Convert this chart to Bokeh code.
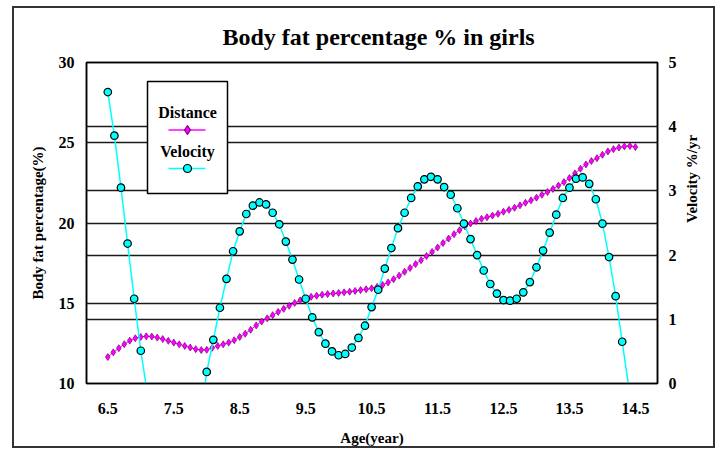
import math
from bokeh.plotting import figure
from bokeh.models import Range1d, LinearAxis, FixedTicker, Grid, BoxAnnotation, Label, InlineStyleSheet
from bokeh.embed import file_html
from bokeh.resources import INLINE

# ---------------- data ----------------
title_text = "Body fat percentage % in girls"
x_label = "Age(year)"
y_label = "Body fat percentage(%)"
y2_label = "Velocity %/yr"
series_names = ["Distance", "Velocity"]

x_ticks = [6.5, 7.5, 8.5, 9.5, 10.5, 11.5, 12.5, 13.5, 14.5]
y_ticks = [10, 15, 20, 25, 30]
y2_ticks = [0, 1, 2, 3, 4, 5]
y_grid_ticks = [15, 20, 25]
y2_grid_ticks = [1, 2, 3, 4]

# Distance: body fat % sampled monthly from 6.5 to 14.5 years
distance_age = [
    6.500, 6.583, 6.667, 6.750, 6.833, 6.917, 7.000, 7.083, 7.167, 7.250, 7.333, 7.417,
    7.500, 7.583, 7.667, 7.750, 7.833, 7.917, 8.000, 8.083, 8.167, 8.250, 8.333, 8.417,
    8.500, 8.583, 8.667, 8.750, 8.833, 8.917, 9.000, 9.083, 9.167, 9.250, 9.333, 9.417,
    9.500, 9.583, 9.667, 9.750, 9.833, 9.917, 10.000, 10.083, 10.167, 10.250, 10.333, 10.417,
    10.500, 10.583, 10.667, 10.750, 10.833, 10.917, 11.000, 11.083, 11.167, 11.250, 11.333, 11.417,
    11.500, 11.583, 11.667, 11.750, 11.833, 11.917, 12.000, 12.083, 12.167, 12.250, 12.333, 12.417,
    12.500, 12.583, 12.667, 12.750, 12.833, 12.917, 13.000, 13.083, 13.167, 13.250, 13.333, 13.417,
    13.500, 13.583, 13.667, 13.750, 13.833, 13.917, 14.000, 14.083, 14.167, 14.250, 14.333, 14.417,
    14.500,
]
distance_pct = [
    11.65, 11.94, 12.20, 12.45, 12.67, 12.82, 12.90, 12.94, 12.93, 12.86, 12.77, 12.66,
    12.55, 12.44, 12.34, 12.24, 12.14, 12.08, 12.10, 12.22, 12.34, 12.44, 12.55, 12.70,
    12.90, 13.10, 13.35, 13.62, 13.86, 14.06, 14.26, 14.46, 14.65, 14.84, 15.02, 15.18,
    15.30, 15.40, 15.47, 15.53, 15.57, 15.61, 15.64, 15.68, 15.72, 15.77, 15.82, 15.87,
    15.93, 16.02, 16.14, 16.30, 16.50, 16.72, 16.96, 17.20, 17.44, 17.68, 17.94, 18.20,
    18.47, 18.75, 19.03, 19.30, 19.55, 19.78, 19.97, 20.12, 20.26, 20.36, 20.46, 20.57,
    20.70, 20.82, 20.95, 21.10, 21.26, 21.41, 21.58, 21.76, 21.93, 22.12, 22.33, 22.55,
    22.80, 23.09, 23.38, 23.65, 23.86, 24.04, 24.25, 24.46, 24.60, 24.70, 24.77, 24.80,
    24.73,
]

# Velocity: %/yr every 0.1 year (values below 0 fall outside the plotted range)
velocity_age = [
    6.5, 6.6, 6.7, 6.8, 6.9, 7.0, 7.1, 7.2, 7.3, 7.4, 7.5, 7.6, 7.7, 7.8, 7.9,
    8.0, 8.1, 8.2, 8.3, 8.4, 8.5, 8.6, 8.7, 8.8, 8.9, 9.0, 9.1, 9.2, 9.3, 9.4,
    9.5, 9.6, 9.7, 9.8, 9.9, 10.0, 10.1, 10.2, 10.3, 10.4, 10.5, 10.6, 10.7, 10.8, 10.9,
    11.0, 11.1, 11.2, 11.3, 11.4, 11.5, 11.6, 11.7, 11.8, 11.9, 12.0, 12.1, 12.2, 12.3, 12.4,
    12.5, 12.6, 12.7, 12.8, 12.9, 13.0, 13.1, 13.2, 13.3, 13.4, 13.5, 13.6, 13.7, 13.8, 13.9,
    14.0, 14.1, 14.2, 14.3, 14.4,
]
velocity_rate = [
    4.54, 3.86, 3.05, 2.18, 1.32, 0.51, -0.16, -0.70, -1.10, -1.35, -1.45, -1.40, -1.20, -0.90, -0.57,
    0.18, 0.68, 1.18, 1.63, 2.06, 2.37, 2.64, 2.77, 2.82, 2.79, 2.66, 2.48, 2.21, 1.93, 1.62,
    1.32, 1.03, 0.80, 0.62, 0.50, 0.44, 0.46, 0.56, 0.71, 0.90, 1.19, 1.46, 1.79, 2.11, 2.42,
    2.66, 2.89, 3.07, 3.18, 3.22, 3.18, 3.06, 2.94, 2.73, 2.49, 2.25, 2.00, 1.76, 1.55, 1.40,
    1.30, 1.29, 1.32, 1.42, 1.58, 1.81, 2.07, 2.35, 2.63, 2.89, 3.05, 3.19, 3.21, 3.11, 2.87,
    2.49, 1.97, 1.36, 0.65, -0.06,
]

# ---------------- styling / layout ----------------
FONT = "Liberation Serif"
X0, X1 = 6.177, 14.835
Y0, Y1 = 10, 30
V0, V1 = 0, 5
W, H = 721, 449
ML, MT = 86, 62
FW, FH = 571, 321
MR, MB = W - ML - FW, H - MT - FH

def dx(px):  # canvas pixel -> x data
    return X0 + (px - ML) / FW * (X1 - X0)

def dy(py):  # canvas pixel -> left-axis data
    return Y1 - (py - MT) / FH * (Y1 - Y0)

border_css = InlineStyleSheet(css=""":host {
  background:
    linear-gradient(#333,#333) 12px 6px / 703px 2px no-repeat,
    linear-gradient(#333,#333) 12px 446px / 703px 2px no-repeat,
    linear-gradient(#333,#333) 12px 6px / 2px 442px no-repeat,
    linear-gradient(#333,#333) 713px 6px / 2px 442px no-repeat,
    white;
}""")

p = figure(width=W, height=H, x_range=Range1d(X0, X1), y_range=Range1d(Y0, Y1),
           output_backend="svg", toolbar_location=None,
           min_border_left=ML, min_border_right=MR, min_border_top=MT, min_border_bottom=MB,
           stylesheets=[border_css])
p.extra_y_ranges = {"vel": Range1d(V0, V1)}

p.background_fill_color = "white"
p.border_fill_alpha = 0
p.outline_line_color = "black"
p.outline_line_width = 1.5

# title
p.title.text = title_text
p.title.text_font = FONT
p.title.text_font_size = "24px"
p.title.text_font_style = "bold"
p.title.text_color = "black"
p.title.align = "left"
p.title.offset = 222 - ML
p.title.standoff = 25

def style_axis(ax, standoff, label_standoff):
    ax.major_tick_line_color = None
    ax.minor_tick_line_color = None
    ax.axis_line_color = "black"
    ax.axis_line_width = 1.5
    ax.major_tick_out = 0
    ax.major_tick_in = 0
    ax.major_label_standoff = standoff
    ax.major_label_text_font = FONT
    ax.major_label_text_font_style = "bold"
    ax.major_label_text_font_size = "16px"
    ax.major_label_text_color = "black"
    ax.axis_label_text_font = FONT
    ax.axis_label_text_font_style = "bold"
    ax.axis_label_text_font_size = "15px"
    ax.axis_label_text_color = "black"
    ax.axis_label_standoff = label_standoff

p.xaxis.ticker = FixedTicker(ticks=x_ticks)
p.xaxis.axis_label = x_label
style_axis(p.xaxis[0], 19, 13)

p.yaxis.ticker = FixedTicker(ticks=y_ticks)
p.yaxis.axis_label = y_label
style_axis(p.yaxis[0], 12, 10)

yr = LinearAxis(y_range_name="vel", ticker=FixedTicker(ticks=y2_ticks))
style_axis(yr, 11, 10)
p.add_layout(yr, "right")

# right axis title as a rotated label reading bottom-to-top
yr_title = LinearAxis(y_range_name="vel", ticker=FixedTicker(ticks=[(V0 + V1) / 2]),
                      major_label_overrides={(V0 + V1) / 2: y2_label},
                      major_label_orientation=math.pi / 2)
style_axis(yr_title, 12, 0)
yr_title.axis_line_color = None
yr_title.major_label_text_font_size = "15px"
p.add_layout(yr_title, "right")

# top edge of the frame
top_ax = LinearAxis(ticker=FixedTicker(ticks=[]))
style_axis(top_ax, 0, 0)
p.add_layout(top_ax, "above")

# grids
p.xgrid.visible = False
p.ygrid.ticker = FixedTicker(ticks=y_grid_ticks)
p.ygrid.grid_line_color = "#1a1a1a"
p.ygrid.grid_line_width = 1.5
g2 = Grid(dimension=1, ticker=FixedTicker(ticks=y2_grid_ticks), y_range_name="vel",
          grid_line_color="#1a1a1a", grid_line_width=1.5)
p.add_layout(g2)

# data
MAG = "#ff00ff"
CYAN = "#00ffff"
p.line(distance_age, distance_pct, line_color=MAG, line_width=1)
p.scatter(distance_age, distance_pct, marker="diamond", size=7, fill_color=MAG,
          line_color="#7a007a", line_width=0.7)
p.line(velocity_age, velocity_rate, y_range_name="vel", line_color=CYAN, line_width=1.5)
p.scatter(velocity_age, velocity_rate, y_range_name="vel", marker="circle", size=7.5,
          fill_color=CYAN, line_color="black", line_width=1.2)

# legend (drawn by hand: label above sample, as in the original)
box = BoxAnnotation(left=dx(147), right=dx(227), top=dy(81), bottom=dy(193),
                    fill_color="white", fill_alpha=1, line_color="black", line_alpha=1,
                    line_width=1.5, level="annotation")
p.add_layout(box)
for name, ty, sy, col, mk, lc, sz in [
        (series_names[0], 112, 129.5, MAG, "diamond", "#7a007a", 9),
        (series_names[1], 151, 168, CYAN, "circle", "black", 8)]:
    p.add_layout(Label(x=dx(187), y=dy(ty), text=name, text_align="center",
                       text_baseline="middle", text_font=FONT, text_font_style="bold",
                       text_font_size="16px", text_color="black", level="overlay"))
    p.line([dx(168), dx(205)], [dy(sy), dy(sy)], line_color=col,
           line_width=1.5, level="overlay")
    p.scatter([dx(187)], [dy(sy)], marker=mk, size=sz, fill_color=col,
              line_color=lc, line_width=1.2, level="overlay")

open("out.html", "w").write(file_html(p, INLINE))
